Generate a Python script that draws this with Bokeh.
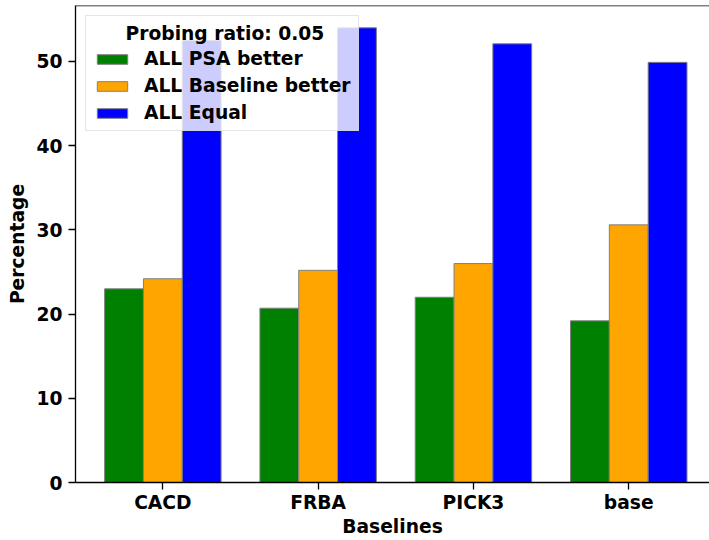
import numpy as np
from bokeh.plotting import figure
from bokeh.models import Range1d, FixedTicker, Span, Legend, LegendItem
from bokeh.embed import file_html
from bokeh.resources import INLINE

# Share of comparisons per baseline at probing ratio 0.05
baselines = ["CACD", "FRBA", "PICK3", "base"]
psa_better = [23.0, 20.7, 22.0, 19.2]
baseline_better = [24.2, 25.2, 26.0, 30.6]
equal = [52.5, 54.0, 52.1, 49.9]
series_labels = ["ALL PSA better", "ALL Baseline better", "ALL Equal"]
series_colors = ["green", "orange", "blue"]
y_ticks = [0, 10, 20, 30, 40, 50]
legend_title = "Probing ratio: 0.05"

FONT = "DejaVu Sans"
FS = "18.7px"
bar_w = 0.25
x = np.arange(len(baselines))

p = figure(
    width=709, height=540,
    x_range=Range1d(-0.5625, 3.52),
    y_range=Range1d(0, 56.65),
    output_backend="svg", toolbar_location=None,
    min_border_left=75, min_border_right=0,
    min_border_top=5, min_border_bottom=58,
)
p.outline_line_color = None
p.xgrid.visible = False
p.ygrid.visible = False

renderers = []
for offset, vals, color in zip((-bar_w, 0.0, bar_w),
                               (psa_better, baseline_better, equal),
                               series_colors):
    r = p.vbar(x=x + offset, top=vals, width=bar_w, bottom=0,
               fill_color=color, line_color="grey", line_width=1)
    renderers.append(r)

# top spine
p.add_layout(Span(location=56.65, dimension="width",
                  line_color="black", line_width=1.3))

for ax in (p.xaxis[0], p.yaxis[0]):
    ax.axis_line_color = "black"
    ax.axis_line_width = 1.3
    ax.major_tick_line_color = "black"
    ax.major_tick_line_width = 1.3
    ax.major_tick_out = 7
    ax.major_tick_in = 0
    ax.minor_tick_line_color = None
    ax.major_label_text_font = FONT
    ax.major_label_text_font_style = "bold"
    ax.major_label_text_font_size = FS
    ax.major_label_text_color = "black"
    ax.axis_label_text_font = FONT
    ax.axis_label_text_font_style = "bold"
    ax.axis_label_text_font_size = FS
    ax.axis_label_text_color = "black"

p.xaxis.ticker = FixedTicker(ticks=list(x))
p.xaxis.major_label_overrides = {int(i): b for i, b in zip(x, baselines)}
p.xaxis.axis_label = "Baselines"
p.xaxis.major_label_standoff = 2
p.xaxis.axis_label_standoff = 0

p.yaxis.ticker = FixedTicker(ticks=y_ticks)
p.yaxis.axis_label = "Percentage"
p.yaxis.major_label_standoff = 6
p.yaxis.axis_label_standoff = 5

# non-breaking spaces push the legend title toward the box centre
legend = Legend(
    items=[LegendItem(label=lab, renderers=[r])
           for lab, r in zip(series_labels, renderers)],
    location="top_left",
    title="\u00a0" * 5 + legend_title,
    title_text_font=FONT, title_text_font_style="bold",
    title_text_font_size=FS, title_text_color="black",
    title_standoff=4,
    label_text_font=FONT, label_text_font_style="bold",
    label_text_font_size=FS, label_text_color="black",
    glyph_width=38, glyph_height=12,
    label_height=21, label_standoff=13, spacing=6,
    padding=7, margin=10,
    border_line_color="#cccccc", border_line_width=1,
    background_fill_color="white", background_fill_alpha=0.8,
)
p.add_layout(legend)

open("out.html", "w").write(file_html(p, INLINE))
